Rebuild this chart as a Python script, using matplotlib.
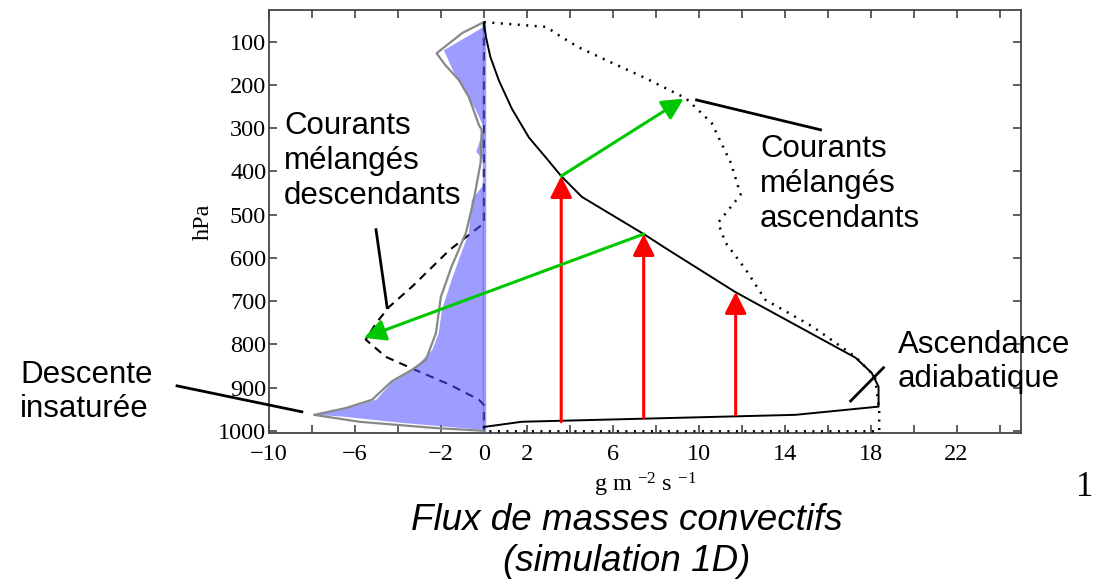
import matplotlib
matplotlib.use('Agg')
import matplotlib.pyplot as plt

plt.rcParams['font.family'] = ['Liberation Serif', 'DejaVu Serif']
plt.rcParams['mathtext.fontset'] = 'custom'
plt.rcParams['mathtext.rm'] = 'Liberation Serif'
plt.rcParams['mathtext.it'] = 'Liberation Serif:italic'

# ascendance adiabatique (solid black), x = flux, p = hPa
up_x = [0, 0.1, 0.3, 0.7, 1.3, 2.1, 2.9, 3.6, 4.56, 7.44, 8.47, 11.7, 14.5, 17.3, 18.05, 18.37, 18.37, 14.5, 1.77, 0]
up_p = [57, 90, 135, 190, 255, 322, 369, 411, 459, 545, 578, 679, 755, 831, 866, 898, 944, 963, 979, 991]

# courants melanges ascendants (dotted)
mix_up_x = [0, 2.9, 3.6, 4.4, 6.0, 7.5, 9.4, 10.6, 11.5, 11.95, 10.9, 11.25, 12.2, 13.1, 15.3, 17.3, 18.2, 18.4, 18.4, 0]
mix_up_p = [55, 66, 89, 113, 150, 184, 231, 288, 381, 454, 519, 565, 628, 697, 759, 829, 875, 951, 1001, 1001]

# courants melanges descendants (dashed)
mix_dn_x = [0, 0, -0.23, -1.6, -3.35, -4.4, -5.0, -5.5, -4.56, -3.2, -1.6, -0.23, 0, 0]
mix_dn_p = [57, 520, 529, 582, 667, 713, 750, 789, 829, 859, 893, 928, 940, 1000]

# descente totale (grey line)
grey_x = [0, -1.0, -2.2, -1.8, -1.16, -0.7, -0.23, -0.1, -0.15, -0.47, -0.84, -1.5, -2.0, -2.23, -2.7,
          -3.35, -4.3, -5.2, -6.4, -7.9, -5.8, -2.4, 0]
grey_p = [55, 80, 127, 154, 189, 228, 293, 304, 380, 466, 543, 620, 690, 774, 836,
          859, 886, 928, 947, 963, 979, 993, 1000]

# descente insaturee (blue area)
blue_x = [0, -1.86, -1.3, -0.37, -0.1, 0, -0.35, 0, 0, -0.56, -0.7, -1.0, -1.5, -1.95, -2.1, -2.4,
          -3.3, -4.3, -5.0, -6.1, -7.8, -6.6, -3.95, 0]
blue_p = [66, 120, 182, 258, 288, 300, 355, 375, 430, 466, 543, 582, 651, 720, 774, 813,
          859, 889, 928, 944, 963, 967, 981, 998]

# arrows: (x0, p0) -> (x1, p1)
red_arrows = [((3.6, 979), (3.6, 411)), ((7.44, 970), (7.44, 545)), ((11.72, 963), (11.72, 679))]
green_arrows = [((3.6, 411), (9.3, 232)), ((7.44, 545), (-5.58, 785))]

# leader lines for the labels
leaders = [((-5.02, 535), (-4.5, 715)),
           ((9.9, 235), (15.67, 304)),
           ((17.07, 931), (18.6, 854)),
           ((-14.28, 896), (-8.47, 956))]

fig = plt.figure(figsize=(10.94, 5.83), dpi=100)
ax = fig.add_axes([269/1094, 1 - 433/583, (1021 - 269)/1094, (433 - 10)/583])

ax.plot(mix_dn_x, mix_dn_p, color='black', lw=1.5, ls=(0, (4, 3)), zorder=2)
ax.fill(blue_x, blue_p, color=(0.3, 0.3, 1.0), alpha=0.55, lw=0, zorder=3)
ax.plot([0, 0], [60, 1000], color=(0.3, 0.3, 1.0), alpha=0.55, lw=2.5, zorder=3)
ax.plot(grey_x, grey_p, color='#888888', lw=1.6, zorder=4)
ax.plot(up_x, up_p, color='black', lw=1.4, zorder=4)
ax.plot(mix_up_x, mix_up_p, color='black', lw=1.8, ls=(0, (0.8, 2.6)), zorder=4)

arrow_style = '-|>,head_length=0.65,head_width=0.33'
for (x0, p0), (x1, p1) in red_arrows:
    ax.annotate('', xy=(x1, p1), xytext=(x0, p0),
                arrowprops=dict(arrowstyle=arrow_style, mutation_scale=20,
                                color='#ff0000', lw=2.2, shrinkA=0, shrinkB=0), zorder=5)
for (x0, p0), (x1, p1) in green_arrows:
    ax.annotate('', xy=(x1, p1), xytext=(x0, p0),
                arrowprops=dict(arrowstyle=arrow_style, mutation_scale=20,
                                color='#00c800', lw=2.2, shrinkA=0, shrinkB=0), zorder=5)
for (x0, p0), (x1, p1) in leaders:
    ax.plot([x0, x1], [p0, p1], color='black', lw=2, clip_on=False, zorder=6)

ax.set_xlim(-10, 25)
ax.set_ylim(1005, 27)
ax.set_yticks(range(100, 1001, 100))
ax.set_xticks(range(-10, 25, 2))
xlabels = {-10: '−10', -6: '−6', -2: '−2', 0: '0', 2: '2', 6: '6', 10: '10', 14: '14', 18: '18', 22: '22'}
ax.set_xticklabels([xlabels.get(v, '') for v in range(-10, 25, 2)])
ax.tick_params(direction='in', top=True, right=True, length=6, width=1.2, color='#444444', labelsize=17.5)
ax.tick_params(axis='x', pad=8)
ax.tick_params(axis='y', pad=2)
for s in ax.spines.values():
    s.set_color('#444444')
    s.set_linewidth(1.3)

ax.set_ylabel('hPa', fontsize=17.5, labelpad=3)
ax.set_xlabel(r'g m $^{-2}$ s $^{-1}$', fontsize=17.5, labelpad=4)

sans = ['Liberation Sans', 'DejaVu Sans']
fig.text(284/1094, 1 - 161/583, 'Courants\nmélangés\ndescendants', family=sans, fontsize=22.5, va='center', ha='left')
fig.text(760/1094, 1 - 184/583, 'Courants\nmélangés\nascendants', family=sans, fontsize=22.5, va='center', ha='left')
fig.text(898/1094, 1 - 362/583, 'Ascendance\nadiabatique', family=sans, fontsize=22.5, va='center', ha='left')
fig.text(20/1094, 1 - 392/583, 'Descente\ninsaturée', family=sans, fontsize=22.5, va='center', ha='left')
fig.text(627/1094, 1 - 541/583, 'Flux de masses convectifs\n(simulation 1D)', family=sans, style='italic',
         fontsize=26.5, va='center', ha='center')
fig.text(1085/1094, 1 - 488/583, '1', fontsize=25, va='center', ha='center')

fig.savefig('out.png', dpi=100)
